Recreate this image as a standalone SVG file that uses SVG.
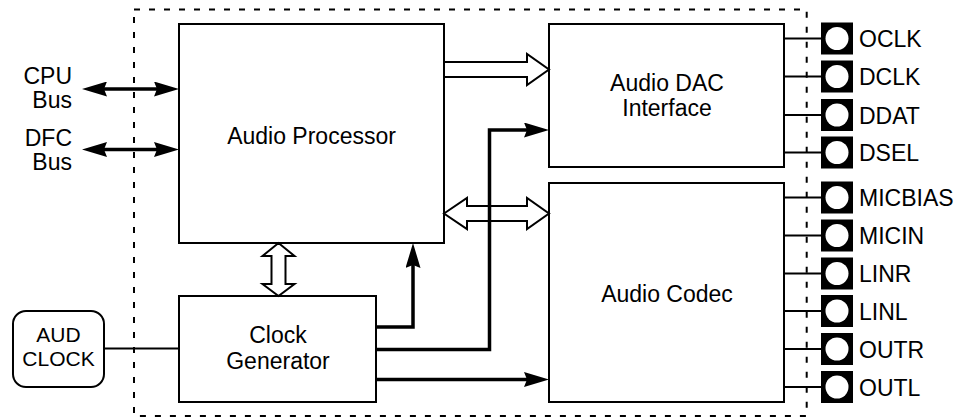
<svg xmlns="http://www.w3.org/2000/svg" width="973" height="418" viewBox="0 0 973 418">
<style>
.box{fill:#fff;stroke:#000;stroke-width:2}
.lbl{font-family:"Liberation Sans",Arial,Helvetica,sans-serif;font-size:23px;fill:#000}
.sm{font-size:21px}
.mid{text-anchor:middle}
.end{text-anchor:end}
.wire{stroke:#000;stroke-width:2;fill:none}
.bus{stroke:#000;stroke-width:3.5;fill:none}
.hollow{fill:#fff;stroke:#000;stroke-width:2;stroke-linejoin:miter}
.pad{fill:#000}
.hole{fill:#fff}
.border{fill:none;stroke:#000;stroke-width:2;stroke-dasharray:6 9}
</style>
<defs>
<marker id="ah" viewBox="0 0 25 15" refX="13" refY="7.5" markerWidth="25" markerHeight="15" markerUnits="userSpaceOnUse" orient="auto-start-reverse">
<path d="M0,0 L25,7.5 L0,15 L3,7.5 Z" fill="#000"/>
</marker>
</defs>

<rect id="chip-border" class="border" x="134" y="9.5" width="672.7" height="406.5"/>

<g id="audio-processor">
<rect class="box" x="179" y="24" width="265" height="219"/>
<text class="lbl mid" x="311.5" y="144">Audio Processor</text>
</g>

<g id="clock-generator">
<rect class="box" x="179" y="296" width="197" height="106"/>
<text class="lbl mid" x="278" y="343">Clock</text>
<text class="lbl mid" x="278" y="369">Generator</text>
</g>

<g id="audio-dac-interface">
<rect class="box" x="549" y="24" width="235" height="143"/>
<text class="lbl mid" x="667" y="90.5">Audio DAC</text>
<text class="lbl mid" x="667" y="116">Interface</text>
</g>

<g id="audio-codec">
<rect class="box" x="549" y="183" width="235" height="219"/>
<text class="lbl mid" x="667" y="301.5">Audio Codec</text>
</g>

<g id="aud-clock">
<rect class="box" x="13" y="311" width="91" height="76" rx="13" ry="13"/>
<text class="lbl sm mid" x="58.5" y="341.5">AUD</text>
<text class="lbl sm mid" x="58.5" y="365.5">CLOCK</text>
</g>

<g id="cpu-bus">
<text class="lbl end" x="72" y="84">CPU</text>
<text class="lbl end" x="72" y="108">Bus</text>
</g>

<g id="dfc-bus">
<text class="lbl end" x="72" y="146">DFC</text>
<text class="lbl end" x="72" y="170">Bus</text>
</g>

<g id="pins">
<g id="pin-oclk"><rect class="pad" x="821" y="22.5" width="32" height="32"/><circle class="hole" cx="837" cy="38.5" r="11.5"/><text class="lbl" x="859" y="47">OCLK</text></g>
<g id="pin-dclk"><rect class="pad" x="821" y="60.5" width="32" height="32"/><circle class="hole" cx="837" cy="76.5" r="11.5"/><text class="lbl" x="859" y="85">DCLK</text></g>
<g id="pin-ddat"><rect class="pad" x="821" y="99" width="32" height="32"/><circle class="hole" cx="837" cy="115" r="11.5"/><text class="lbl" x="859" y="123.5">DDAT</text></g>
<g id="pin-dsel"><rect class="pad" x="821" y="136.5" width="32" height="32"/><circle class="hole" cx="837" cy="152.5" r="11.5"/><text class="lbl" x="859" y="161">DSEL</text></g>
<g id="pin-micbias"><rect class="pad" x="821" y="181.5" width="32" height="32"/><circle class="hole" cx="837" cy="197.5" r="11.5"/><text class="lbl" x="859" y="206">MICBIAS</text></g>
<g id="pin-micin"><rect class="pad" x="821" y="219.5" width="32" height="32"/><circle class="hole" cx="837" cy="235.5" r="11.5"/><text class="lbl" x="859" y="244">MICIN</text></g>
<g id="pin-linr"><rect class="pad" x="821" y="257.5" width="32" height="32"/><circle class="hole" cx="837" cy="273.5" r="11.5"/><text class="lbl" x="859" y="282">LINR</text></g>
<g id="pin-linl"><rect class="pad" x="821" y="295" width="32" height="32"/><circle class="hole" cx="837" cy="311" r="11.5"/><text class="lbl" x="859" y="319.5">LINL</text></g>
<g id="pin-outr"><rect class="pad" x="821" y="333" width="32" height="32"/><circle class="hole" cx="837" cy="349" r="11.5"/><text class="lbl" x="859" y="357.5">OUTR</text></g>
<g id="pin-outl"><rect class="pad" x="821" y="371" width="32" height="32"/><circle class="hole" cx="837" cy="387" r="11.5"/><text class="lbl" x="859" y="395.5">OUTL</text></g>
</g>

<g id="connectors">
<path class="hollow" d="M444,62 H527 V54 L549,69.5 L527,85 V77 H444 Z"/>
<path class="hollow" d="M444,213.5 L467,198 V206 H527 V198 L549,213.5 L527,229 V221 H467 V229 Z"/>
<path class="hollow" d="M278.5,243 L294.5,256 H285.5 V284 H294.5 L278.5,296 L262.5,284 H271.5 V256 H262.5 Z"/>
<path class="bus" d="M94,89 H167" marker-start="url(#ah)" marker-end="url(#ah)"/>
<path class="bus" d="M94,149.5 H167" marker-start="url(#ah)" marker-end="url(#ah)"/>
<path class="bus" d="M376,327 H413 V255" marker-end="url(#ah)"/>
<path class="bus" d="M376,349.5 H489.5 V130 H537" marker-end="url(#ah)"/>
<path class="bus" d="M376,379.5 H537" marker-end="url(#ah)"/>
<path class="wire" d="M104,348.5 H179"/>
<path class="wire" d="M784,38.5 H821 M784,76.5 H821 M784,115 H821 M784,152.5 H821 M784,197.5 H821 M784,235.5 H821 M784,273.5 H821 M784,311 H821 M784,349 H821 M784,387 H821"/>
</g>
</svg>
